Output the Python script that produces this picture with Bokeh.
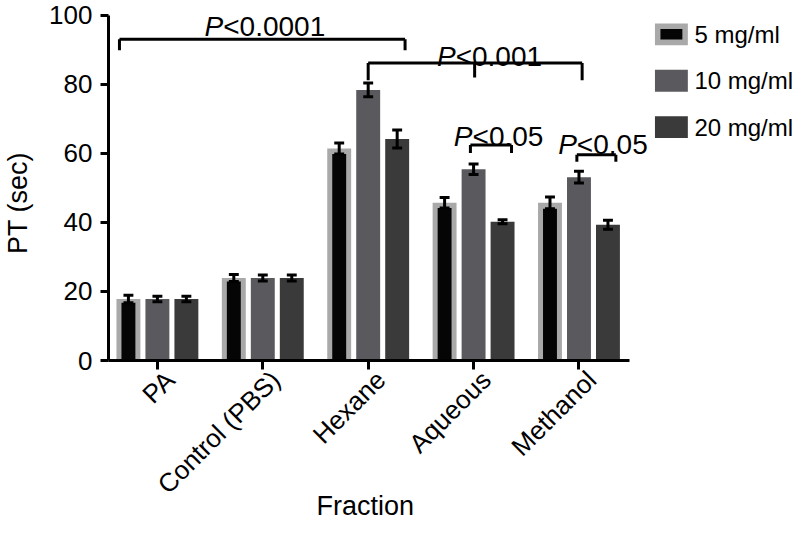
import math
from bokeh.plotting import figure
from bokeh.models import Range1d, FixedTicker, LinearAxis
from bokeh.core.properties import value
from bokeh.embed import file_html
from bokeh.resources import INLINE

# ---------------- data ----------------
categories = ["PA", "Control (PBS)", "Hexane", "Aqueous", "Methanol"]
series_names = ["5 mg/ml", "10 mg/ml", "20 mg/ml"]
pt_5mg = [17.8, 23.9, 61.4, 45.7, 45.7]
pt_10mg = [17.8, 23.9, 78.4, 55.4, 53.1]
pt_20mg = [17.8, 23.9, 64.2, 40.2, 39.3]
err_5mg = [1.1, 1.0, 1.6, 1.5, 1.7]
err_10mg = [0.8, 0.9, 2.0, 1.5, 1.7]
err_20mg = [0.8, 0.9, 2.6, 0.6, 1.3]
y_ticks = [0, 20, 40, 60, 80, 100]

sig_texts = ["<0.0001", "<0.001", "<0.05", "<0.05"]

# ---------------- layout / style constants ----------------
FONT = "Liberation Sans"
NBSP = "\u00a0"
OFFSETS = [-0.275, 0.0, 0.275]
BAR_W = 0.227
INNER_W = 0.132
CAP = 0.047
LABEL_SHIFT = 0.12
C_LIGHT = "#a9a9a9"
C_BLACK = "#050505"
C_MID = "#5a5a5e"
C_DARK = "#3a3a3a"

# bracket geometry (annotation positions)
br_x0 = [-0.36, 2.0, 2.97, 3.98]
br_x1 = [2.35, 4.03, 3.36, 4.35]
br_y = [93.1, 86.2, 62.4, 59.6]
br_end = [89.9, 81.2, 60.1, 57.6]
br_mid_x = 3.01
br_mid_end = 82.0
lab_x = [0.625, 2.83, 2.99, 3.98]
lab_y = [96.8, 88.0, 64.8, 62.5]

# legend placement (data units inside the widened frame)
LEG_X = 4.877
LEG_W = 0.312
LEG_INNER_W = 0.208
LEG_Y0 = 94.5
LEG_DY = 13.45
LEG_H = 6.34
LEG_INNER_H = 3.03
LEG_TEXT_X = 5.095

XR = (-0.464, 6.045)
AXIS_END = 4.475
p = figure(width=794, height=524, output_backend="svg", toolbar_location=None,
           x_range=Range1d(*XR), y_range=Range1d(0, 104.3),
           min_border_top=0, min_border_left=106, min_border_right=0,
           min_border_bottom=162)
p.outline_line_color = None
p.xgrid.visible = False
p.ygrid.visible = False
p.background_fill_color = "white"
p.border_fill_color = "white"
p.extra_x_ranges = {"lab": Range1d(XR[0] - LABEL_SHIFT, XR[1] - LABEL_SHIFT)}

xs = list(range(len(categories)))

# 5 mg/ml : light grey bar with black inner bar
x5 = [x + OFFSETS[0] for x in xs]
p.vbar(x=x5, top=pt_5mg, width=BAR_W, bottom=0, fill_color=C_LIGHT, line_color=None)
p.vbar(x=x5, top=[v - e for v, e in zip(pt_5mg, err_5mg)], width=INNER_W, bottom=0,
       fill_color=C_BLACK, line_color=None)
x10 = [x + OFFSETS[1] for x in xs]
p.vbar(x=x10, top=pt_10mg, width=BAR_W, bottom=0, fill_color=C_MID, line_color=None)
x20 = [x + OFFSETS[2] for x in xs]
p.vbar(x=x20, top=pt_20mg, width=BAR_W, bottom=0, fill_color=C_DARK, line_color=None)

# error bars
for xx, vals, errs in [(x5, pt_5mg, err_5mg), (x10, pt_10mg, err_10mg), (x20, pt_20mg, err_20mg)]:
    lo = [v - e for v, e in zip(vals, errs)]
    hi = [v + e for v, e in zip(vals, errs)]
    p.segment(x0=xx, y0=lo, x1=xx, y1=hi, line_color="black", line_width=3)
    p.segment(x0=[x - CAP for x in xx], y0=lo, x1=[x + CAP for x in xx], y1=lo,
              line_color="black", line_width=3)
    p.segment(x0=[x - CAP for x in xx], y0=hi, x1=[x + CAP for x in xx], y1=hi,
              line_color="black", line_width=3)

# significance brackets
p.segment(x0=br_x0, y0=br_y, x1=br_x1, y1=br_y, line_color="black", line_width=3)
p.segment(x0=br_x0, y0=br_y, x1=br_x0, y1=br_end, line_color="black", line_width=3)
p.segment(x0=br_x1, y0=br_y, x1=br_x1, y1=br_end, line_color="black", line_width=3)
p.segment(x0=[br_mid_x], y0=[br_y[1]], x1=[br_mid_x], y1=[br_mid_end],
          line_color="black", line_width=3)
p.text(x=lab_x, y=lab_y, text=["P"] * len(lab_x), text_font=value(FONT),
       text_font_style="italic", text_font_size="28px", text_align="right",
       text_baseline="alphabetic", text_color="black")
p.text(x=lab_x, y=lab_y, text=sig_texts, text_font=value(FONT),
       text_font_style="normal", text_font_size="28px", text_align="left",
       text_baseline="alphabetic", text_color="black")

# legend drawn with glyphs
leg_y = [LEG_Y0 - i * LEG_DY for i in range(len(series_names))]
leg_cols = [C_LIGHT, C_MID, C_DARK]
p.rect(x=[LEG_X] * 3, y=leg_y, width=LEG_W, height=LEG_H, fill_color=leg_cols,
       line_color=None)
p.rect(x=[LEG_X], y=[leg_y[0]], width=LEG_INNER_W, height=LEG_INNER_H,
       fill_color=C_BLACK, line_color=None)
p.text(x=[LEG_TEXT_X] * 3, y=leg_y, text=series_names, text_font=value(FONT),
       text_font_size="24px", text_align="left", text_baseline="middle",
       text_color="black")

# y axis
ya = p.yaxis[0]
ya.ticker = FixedTicker(ticks=y_ticks)
ya.bounds = (0, 100)
ya.axis_label = "PT (sec)" + NBSP * 6
ya.axis_label_standoff = 13
ya.major_tick_out = 8
ya.major_label_text_font_size = "26px"
ya.major_label_standoff = 8

# x axis (ticks) + a second, label-only x axis
xa = p.xaxis[0]
xa.ticker = FixedTicker(ticks=xs)
xa.bounds = (XR[0], AXIS_END)
xa.major_label_text_font_size = "0px"
xa.major_label_standoff = 0
xa.major_tick_out = 9
xa.axis_label = None
xb = LinearAxis(x_range_name="lab", ticker=FixedTicker(ticks=xs),
                axis_line_color=None, major_tick_line_color=None,
                minor_tick_line_color=None, major_tick_out=0, major_tick_in=0,
                major_label_overrides={i: c for i, c in enumerate(categories)},
                major_label_orientation=math.pi / 4, major_label_standoff=6,
                major_label_text_font=FONT, major_label_text_font_size="26px",
                major_label_text_color="black",
                axis_label="Fraction" + NBSP * 23, axis_label_standoff=-22,
                axis_label_text_font=FONT, axis_label_text_font_size="27px",
                axis_label_text_font_style="normal", axis_label_text_color="black")
p.add_layout(xb, "below")

for ax in (xa, ya):
    ax.axis_line_width = 3
    ax.axis_line_color = "black"
    ax.major_tick_line_width = 3
    ax.major_tick_line_color = "black"
    ax.major_tick_in = 0
    ax.minor_tick_line_color = None
    ax.major_label_text_font = FONT
    ax.major_label_text_color = "black"
    ax.axis_label_text_font = FONT
    ax.axis_label_text_font_size = "27px"
    ax.axis_label_text_font_style = "normal"
    ax.axis_label_text_color = "black"

open("out.html", "w").write(file_html(p, INLINE))
